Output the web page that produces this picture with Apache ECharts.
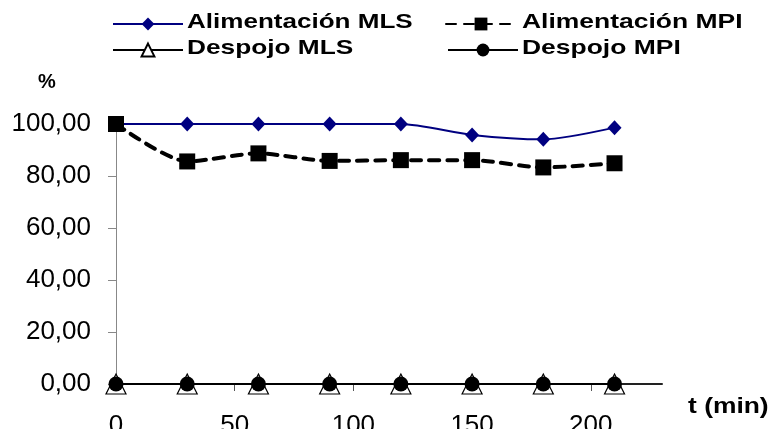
<!DOCTYPE html>
<html>
<head>
<meta charset="utf-8">
<script src="https://cdn.jsdelivr.net/npm/echarts@6/dist/echarts.min.js"></script>
<style>
  html, body { margin: 0; padding: 0; background: #fff; }
  #chart { width: 771px; height: 429px; }
</style>
</head>
<body>
<div id="chart"></div>
<script>
// Sampling times (min)
const times = [0, 30, 60, 90, 120, 150, 180, 210];
// Percentages per stream
const alimentacionMLS = [100, 100, 100, 100, 100, 95.8, 94.1, 98.6];
const alimentacionMPI = [100, 85.6, 88.7, 85.8, 86.1, 86.1, 83.3, 84.9];
const despojoMLS = [0, 0, 0, 0, 0, 0, 0, 0];
const despojoMPI = [0, 0, 0, 0, 0, 0, 0, 0];
// Axis tick values
const xTicks = [0, 50, 100, 150, 200];
const seriesNames = ['Alimentación MLS', 'Alimentación MPI', 'Despojo MLS', 'Despojo MPI'];

const pair = (vals) => times.map((t, i) => [t, vals[i]]);
const FONT = 'Liberation Sans, Arial, sans-serif';

const chart = echarts.init(document.getElementById('chart'), null, { renderer: 'canvas' });

// Legend boxes carry only the line+symbol icons; the captions are drawn as wide bold text beside them
const legendBase = {
  itemWidth: 70,
  itemHeight: 16,
  padding: 0,
  formatter: () => '',
  textStyle: { fontSize: 1 },
  selectedMode: false
};

// Wide bold caption next to a legend icon
const caption = (text, x, y, scale) => ({
  type: 'text',
  x: x,
  y: y,
  scaleX: scale,
  silent: true,
  style: {
    text: text,
    fontFamily: FONT,
    fontWeight: 'bold',
    fontSize: 21,
    fill: '#000',
    verticalAlign: 'middle'
  }
});

chart.setOption({
  animation: false,
  backgroundColor: '#fff',
  grid: {
    left: 116, top: 124, width: 546, height: 260,
    containLabel: false,
    outerBoundsMode: 'none'
  },
  legend: [
    Object.assign({}, legendBase, { data: [seriesNames[0]], left: 112, top: 16 }),
    Object.assign({}, legendBase, { data: [seriesNames[1]], left: 445, top: 16 }),
    Object.assign({}, legendBase, { data: [seriesNames[2]], left: 112, top: 42 }),
    Object.assign({}, legendBase, { data: [seriesNames[3]], left: 447, top: 42 })
  ],
  xAxis: {
    type: 'value',
    min: 0,
    max: 230,
    interval: 50,
    splitLine: { show: false },
    axisLine: { onZero: false, lineStyle: { color: '#222', width: 2 } },
    axisTick: { show: true, length: 7, customValues: xTicks, lineStyle: { color: '#555', width: 1 } },
    axisLabel: {
      customValues: xTicks,
      margin: 29,
      fontFamily: FONT,
      fontSize: 26,
      color: '#000'
    }
  },
  yAxis: {
    type: 'value',
    min: 0,
    max: 100,
    interval: 20,
    splitLine: { show: false },
    axisLine: { show: true, lineStyle: { color: '#888', width: 1 } },
    axisTick: { show: true, length: 8, lineStyle: { color: '#888', width: 1 } },
    axisLabel: {
      margin: 25,
      fontFamily: FONT,
      fontSize: 26,
      color: '#000',
      formatter: (v) => v.toFixed(2).replace('.', ',')
    }
  },
  graphic: [
    caption(seriesNames[0], 187, 22.5, 1.24),
    caption(seriesNames[1], 522, 22.5, 1.26),
    caption(seriesNames[2], 187, 48.5, 1.25),
    caption(seriesNames[3], 522, 48.5, 1.26),
    {
      type: 'text', x: 38, y: 82, silent: true,
      style: { text: '%', fontFamily: FONT, fontWeight: 'bold', fontSize: 20, fill: '#000', verticalAlign: 'middle' }
    },
    {
      type: 'text', x: 688, y: 407, scaleX: 1.2, silent: true,
      style: { text: 't (min)', fontFamily: FONT, fontWeight: 'bold', fontSize: 22, fill: '#000', verticalAlign: 'middle' }
    }
  ],
  series: [
    {
      name: seriesNames[0],
      type: 'line',
      data: pair(alimentacionMLS),
      smooth: 0.25,
      symbol: 'diamond',
      symbolSize: [14, 15],
      itemStyle: { color: '#000080' },
      lineStyle: { color: '#000080', width: 2 },
      z: 2
    },
    {
      name: seriesNames[1],
      type: 'line',
      data: pair(alimentacionMPI),
      smooth: 0.25,
      symbol: 'rect',
      symbolSize: 16,
      itemStyle: { color: '#000' },
      lineStyle: { color: '#000', width: 4, type: [10, 8], cap: 'round' },
      z: 3
    },
    {
      name: seriesNames[2],
      type: 'line',
      data: pair(despojoMLS),
      symbol: 'triangle',
      symbolSize: [20, 20],
      itemStyle: { color: '#fff', borderColor: '#000', borderWidth: 1.2 },
      lineStyle: { color: '#000', width: 2 },
      z: 4
    },
    {
      name: seriesNames[3],
      type: 'line',
      data: pair(despojoMPI),
      symbol: 'circle',
      symbolSize: 15,
      itemStyle: { color: '#000' },
      lineStyle: { color: '#000', width: 2 },
      z: 5
    }
  ]
});
</script>
</body>
</html>
